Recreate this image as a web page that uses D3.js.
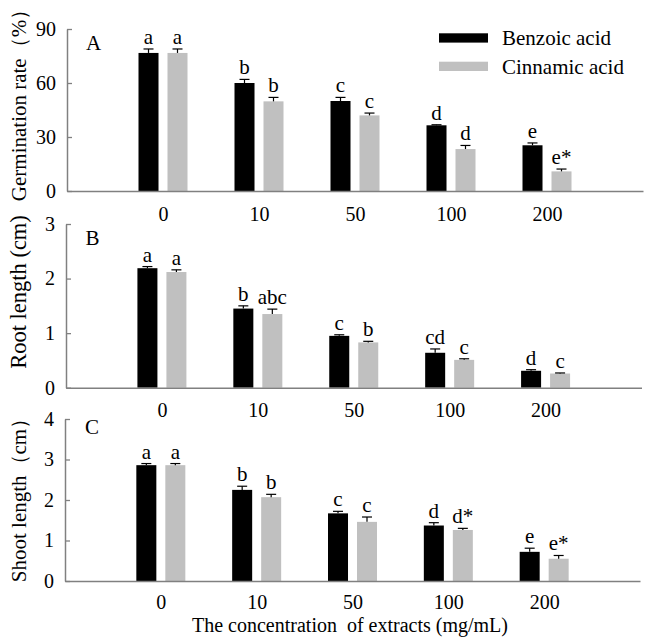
<!DOCTYPE html>
<html>
<head>
<meta charset="utf-8">
<script src="https://cdn.jsdelivr.net/npm/d3@7/dist/d3.min.js"></script>
<style>
  html, body { margin: 0; padding: 0; background: #fff; }
  svg { display: block; }
  text { font-family: "Liberation Serif", "Times New Roman", serif; fill: #000; }
</style>
</head>
<body>
<svg id="chart" width="645" height="638"></svg>
<script>
// ---------- data ----------
const categories = ["0", "10", "50", "100", "200"];
const seriesNames = ["Benzoic acid", "Cinnamic acid"];

const germBenzoic      = [76.7, 60.0, 50.0, 36.5, 25.4];
const germBenzoicErr   = [2.2, 2.0, 2.0, 0.3, 1.3];
const germCinnamic     = [76.7, 49.8, 42.0, 23.3, 10.9];
const germCinnamicErr  = [2.2, 2.2, 1.3, 2.0, 1.3];
const germBenzoicSig   = ["a", "b", "c", "d", "e"];
const germCinnamicSig  = ["a", "b", "c", "d", "e*"];

const rootBenzoic      = [2.19, 1.45, 0.95, 0.64, 0.31];
const rootBenzoicErr   = [0.03, 0.05, 0.02, 0.07, 0.02];
const rootCinnamic     = [2.12, 1.35, 0.83, 0.51, 0.26];
const rootCinnamicErr  = [0.04, 0.09, 0.02, 0.02, 0.01];
const rootBenzoicSig   = ["a", "b", "c", "cd", "d"];
const rootCinnamicSig  = ["a", "abc", "b", "c", "c"];

const shootBenzoic     = [2.86, 2.25, 1.67, 1.37, 0.72];
const shootBenzoicErr  = [0.04, 0.09, 0.05, 0.07, 0.09];
const shootCinnamic    = [2.86, 2.07, 1.46, 1.26, 0.55];
const shootCinnamicErr = [0.04, 0.07, 0.12, 0.04, 0.08];
const shootBenzoicSig  = ["a", "b", "c", "d", "e"];
const shootCinnamicSig = ["a", "b", "c", "d*", "e*"];

const germTicks  = [0, 30, 60, 90];
const rootTicks  = [0, 1, 2, 3];
const shootTicks = [0, 1, 2, 3, 4];

const colors = ["#000000", "#c0c0c0"];
const axisColor = "#808080";

// ---------- panels ----------
const panels = [
  { letter: "A", title: "Germination rate（%）", ticks: germTicks, max: 90,
    vals: [germBenzoic, germCinnamic], errs: [germBenzoicErr, germCinnamicErr],
    sig: [germBenzoicSig, germCinnamicSig], titleSize: 21,
    x0: 67, x1: 643, yTop: 29, yBot: 191, titleY: 100, letterX: 86, letterY: 49.5, xPad: 16 },
  { letter: "B", title: "Root length (cm)", ticks: rootTicks, max: 3,
    vals: [rootBenzoic, rootCinnamic], errs: [rootBenzoicErr, rootCinnamicErr],
    sig: [rootBenzoicSig, rootCinnamicSig], titleSize: 22.5,
    x0: 66, x1: 641.5, yTop: 224, yBot: 387.7, titleY: 292, letterX: 85.5, letterY: 245, xPad: 15 },
  { letter: "C", title: "Shoot length（cm）", ticks: shootTicks, max: 4,
    vals: [shootBenzoic, shootCinnamic], errs: [shootBenzoicErr, shootCinnamicErr],
    sig: [shootBenzoicSig, shootCinnamicSig], titleSize: 21,
    x0: 65, x1: 640, yTop: 419, yBot: 581, titleY: 495, letterX: 85, letterY: 433.5, xPad: 14 }
];

const svg = d3.select("#chart");

panels.forEach(p => {
  const g = svg.append("g");
  const x = d3.scalePoint().domain(categories).range([p.x0, p.x1]).padding(1);
  const xs = d3.scaleBand().domain(seriesNames).range([-24.5, 24.5]).paddingInner(0.31).paddingOuter(0);
  const y = d3.scaleLinear().domain([0, p.max]).range([p.yBot, p.yTop]);

  // bars
  seriesNames.forEach((s, si) => {
    const data = categories.map((c, i) => ({ c, v: p.vals[si][i], e: p.errs[si][i], t: p.sig[si][i] }));
    const sg = g.append("g");
    sg.selectAll("rect").data(data).join("rect")
      .attr("x", d => x(d.c) + xs(s))
      .attr("width", xs.bandwidth())
      .attr("y", d => y(d.v))
      .attr("height", d => y(0) - y(d.v))
      .attr("fill", colors[si]);
    // error bars (upper only)
    const cx = d => x(d.c) + xs(s) + xs.bandwidth() / 2;
    sg.selectAll("line.eb").data(data).join("line").attr("class", "eb")
      .attr("x1", cx).attr("x2", cx)
      .attr("y1", d => y(d.v)).attr("y2", d => y(d.v + d.e))
      .attr("stroke", "#000").attr("stroke-width", 1.2);
    sg.selectAll("line.cap").data(data).join("line").attr("class", "cap")
      .attr("x1", d => cx(d) - 5).attr("x2", d => cx(d) + 5)
      .attr("y1", d => y(d.v + d.e)).attr("y2", d => y(d.v + d.e))
      .attr("stroke", "#000").attr("stroke-width", 1.2);
    // significance letters
    sg.selectAll("text").data(data).join("text")
      .attr("x", cx)
      .attr("y", d => y(d.v + d.e) - 5)
      .attr("text-anchor", "middle")
      .attr("font-size", 21)
      .text(d => d.t);
  });

  // axes
  const yAxis = d3.axisLeft(y).tickValues(p.ticks).tickFormat(d3.format("d"))
    .tickSizeInner(-5).tickSizeOuter(0).tickPadding(11);
  const ya = g.append("g").attr("transform", `translate(${p.x0},0)`).call(yAxis);
  const xAxis = d3.axisBottom(x).tickSize(0).tickPadding(p.xPad);
  const xa = g.append("g").attr("transform", `translate(0,${p.yBot})`).call(xAxis);
  [ya, xa].forEach(a => {
    a.select(".domain").attr("stroke", axisColor).attr("stroke-width", 1.5);
    a.selectAll(".tick line").attr("stroke", axisColor).attr("stroke-width", 1.3);
    a.selectAll(".tick text").attr("font-size", 20)
      .attr("font-family", "'Liberation Serif', 'Times New Roman', serif").attr("fill", "#000");
  });

  // panel letter
  g.append("text").attr("x", p.letterX).attr("y", p.letterY).attr("font-size", 21).text(p.letter);

  // y title
  g.append("text")
    .attr("transform", `translate(26,${p.titleY}) rotate(-90)`)
    .attr("text-anchor", "middle")
    .attr("font-size", p.titleSize)
    .text(p.title);
});

// legend
const legend = svg.append("g");
seriesNames.forEach((s, i) => {
  legend.append("rect").attr("x", 439).attr("y", 33.3 + i * 28.4).attr("width", 49).attr("height", 9.3).attr("fill", colors[i]);
  legend.append("text").attr("x", 502).attr("y", 45 + i * 29).attr("font-size", 21).text(s);
});

// x title
svg.append("text")
  .attr("x", 350).attr("y", 632)
  .attr("text-anchor", "middle")
  .attr("font-size", 20)
  .style("white-space", "pre")
  .text("The concentration  of extracts (mg/mL)");
</script>
</body>
</html>
